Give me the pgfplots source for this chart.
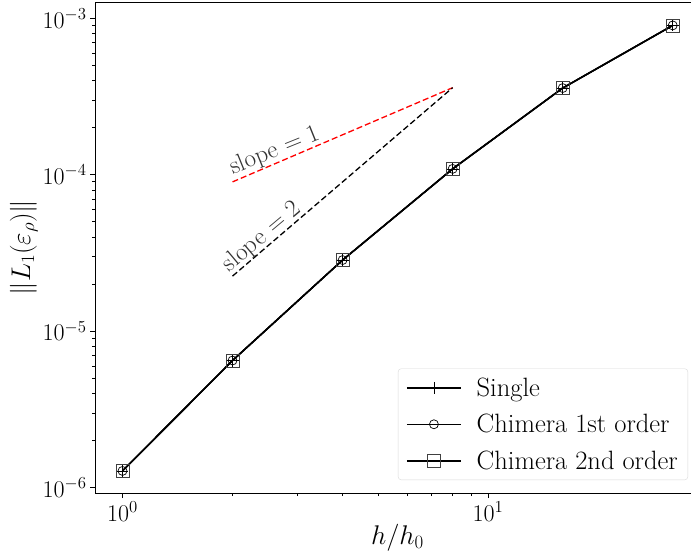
\RequirePackage{fix-cm}
\documentclass[border=0pt]{standalone}
\usepackage{pgfplots}
\pgfplotsset{compat=1.18}
\newcommand{\tickf}{\fontsize{24}{28}\selectfont}
\newcommand{\labf}{\fontsize{27}{32}\selectfont}
\newcommand{\legf}{\fontsize{26.5}{31}\selectfont}
\newcommand{\txtf}{\fontsize{25}{30}\selectfont}
\begin{document}
\begin{tikzpicture}
\begin{axis}[
  scale only axis, width=605pt, height=491pt,
  xmode=log, ymode=log,
  xmin=0.841, xmax=38.0,
  ymin=9.25e-7, ymax=1.27e-3,
  xtick={1,10}, ytick={1e-6,1e-5,1e-4,1e-3},
  xtick pos=lower, ytick pos=left,
  tick align=outside,
  major tick length=5pt, minor tick length=3pt,
  every tick/.style={black, line width=0.8pt},
  axis line style={line width=0.8pt},
  tick label style={font=\tickf},
  label style={font=\labf},
  xlabel={$h/h_0$}, ylabel={$\|L_1(\varepsilon_\rho)\|$},
  xlabel style={yshift=4pt},
  ylabel style={yshift=-2pt},
  legend cell align=left,
  legend image code/.code={\draw[mark repeat=2,mark phase=2,#1] plot coordinates {(0pt,0pt) (27pt,0pt) (54pt,0pt)};},
  legend style={at={(rel axis cs:1,0)}, anchor=south east, xshift=-12pt, yshift=13pt,
    draw=gray!30, rounded corners=3pt, font=\legf, row sep=12.5pt, inner xsep=8pt, inner ysep=7pt,
    /tikz/every odd column/.append style={column sep=13pt}},
]
\addplot[black, line width=1.5pt, mark=+, mark size=6pt, mark options={line width=0.7pt}]
  coordinates {(1,1.28e-6) (2,6.5e-6) (4,2.85e-5) (8,1.09e-4) (16,3.58e-4) (32,9.0e-4)};
\addplot[black, line width=1.5pt, mark=o, mark size=4.5pt, mark options={line width=0.7pt}]
  coordinates {(1,1.28e-6) (2,6.5e-6) (4,2.85e-5) (8,1.09e-4) (16,3.58e-4) (32,9.0e-4)};
\addplot[black, line width=1.5pt, mark=square, mark size=6.5pt, mark options={line width=0.7pt, black!75}]
  coordinates {(1,1.28e-6) (2,6.5e-6) (4,2.85e-5) (8,1.09e-4) (16,3.58e-4) (32,9.0e-4)};
\legend{Single, Chimera 1st order, Chimera 2nd order}
\addplot[red, line width=1.3pt, dash pattern=on 6pt off 3pt, forget plot]
  coordinates {(2,9.0e-5) (8,3.6e-4)};
\addplot[black, line width=1.3pt, dash pattern=on 6pt off 3pt, forget plot]
  coordinates {(2,2.25e-5) (8,3.6e-4)};
\node[rotate=22, anchor=base west, inner sep=0pt, font=\txtf, black!80] at (axis cs:2.01,1.0e-4) {slope $=1$};
\node[rotate=40, anchor=base west, inner sep=0pt, font=\txtf, black!80] at (axis cs:1.96,2.38e-5) {slope $=2$};
\end{axis}
\pgfresetboundingbox
\path ([xshift=-95pt,yshift=-66pt]current axis.south west) rectangle ([xshift=-9pt,yshift=2pt]current axis.north east);
\end{tikzpicture}
\end{document}
